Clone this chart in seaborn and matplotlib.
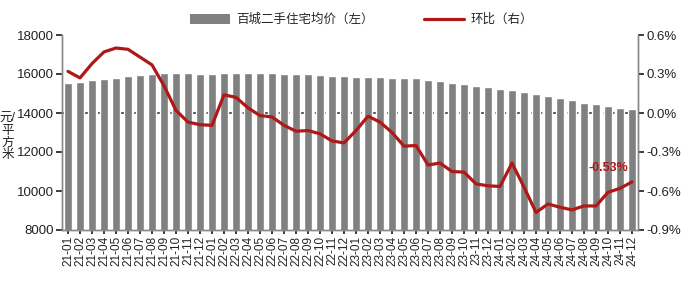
import matplotlib
matplotlib.use("Agg")
import matplotlib.pyplot as plt
import seaborn as sns
import numpy as np
import pandas as pd
from matplotlib.patches import Patch
from matplotlib.lines import Line2D

months = ["21-01","21-02","21-03","21-04","21-05","21-06","21-07","21-08","21-09","21-10","21-11","21-12",
          "22-01","22-02","22-03","22-04","22-05","22-06","22-07","22-08","22-09","22-10","22-11","22-12",
          "23-01","23-02","23-03","23-04","23-05","23-06","23-07","23-08","23-09","23-10","23-11","23-12",
          "24-01","24-02","24-03","24-04","24-05","24-06","24-07","24-08","24-09","24-10","24-11","24-12"]

prices = [15530, 15580, 15670, 15720, 15800, 15890, 15940, 15990, 16040, 16040, 16040, 16010,
          16010, 16040, 16040, 16040, 16040, 16040, 15990, 15990, 15990, 15960, 15910, 15900,
          15870, 15870, 15870, 15820, 15820, 15770, 15670, 15620, 15530, 15480, 15400, 15310,
          15230, 15160, 15070, 14990, 14850, 14750, 14680, 14530, 14440, 14340, 14260, 14200]

mom = [0.32, 0.27, 0.38, 0.47, 0.50, 0.49, 0.43, 0.37, 0.21, 0.02, -0.07, -0.09,
       -0.095, 0.14, 0.12, 0.04, -0.02, -0.03, -0.095, -0.14, -0.135, -0.16, -0.215, -0.23,
       -0.135, -0.025, -0.07, -0.15, -0.255, -0.25, -0.40, -0.385, -0.45, -0.455, -0.545, -0.56,
       -0.565, -0.385, -0.57, -0.765, -0.70, -0.725, -0.745, -0.715, -0.715, -0.61, -0.58, -0.53]

left_ticks = [8000, 10000, 12000, 14000, 16000, 18000]
right_ticks = [-0.9, -0.6, -0.3, 0.0, 0.3, 0.6]
bar_label = "百城二手住宅均价（左）"
line_label = "环比（右）"
last_label = "-0.53%"

sns.set_theme(style="white")
plt.rcParams['font.family'] = ['Liberation Sans', 'Noto Sans CJK SC', 'DejaVu Sans']

df = pd.DataFrame({"month": months, "price": prices, "mom": mom, "idx": np.arange(len(months))})

fig = plt.figure(figsize=(6.95, 2.95), dpi=100)
ax = fig.add_axes([62/695, 1-230/295, (638-62)/695, 195/295])

ax.axhline(14000, color="#444444", lw=1.3, ls=(0, (6, 4)), zorder=0)
sns.barplot(data=df, x="month", y="price", color="#808080", width=0.6, ax=ax,
            saturation=1, zorder=2)
ax.set_ylim(8000, 18000)
ax.set_xlim(-0.5, len(months) - 0.5)
ax.set_yticks(left_ticks)
ax.set_yticklabels([str(v) for v in left_ticks], fontsize=9.5, color="#222222")
ax.set_xlabel("")
ax.set_ylabel("")
ax.tick_params(axis="x", labelrotation=90, labelsize=8.5, length=3, direction="out",
               bottom=True, colors="#222222", pad=1)
ax.tick_params(axis="y", length=4, direction="out", left=True, pad=2)

ax2 = ax.twinx()
sns.lineplot(data=df, x="idx", y="mom", color="#B01818", lw=2.3, ax=ax2, zorder=3)
ax2.set_ylim(-0.9, 0.6)
ax2.set_yticks(right_ticks)
ax2.set_yticklabels([f"{v:.1f}%" for v in right_ticks], fontsize=9.5, color="#222222")
ax2.set_ylabel("")
ax2.set_xlabel("")
ax2.set_xlim(-0.5, len(months) - 0.5)
ax2.tick_params(axis="y", length=4, direction="out", right=True, pad=2)

for a in (ax, ax2):
    a.spines["top"].set_visible(False)
    for s in ("left", "right", "bottom"):
        a.spines[s].set_color("#888888")
        a.spines[s].set_linewidth(1.0)

ax2.text(45, -0.42, last_label, color="#B01818", fontsize=9, fontweight="bold",
         ha="center", va="center")

fig.text(0.011, 0.535, "元/\n平\n方\n米", fontsize=9, ha="center", va="center",
         linespacing=1.0, color="#222222")

handles = [Patch(facecolor="#808080", edgecolor="none"),
           Line2D([0], [0], color="#B01818", lw=2.3)]
fig.legend(handles, [bar_label, line_label], loc="center", bbox_to_anchor=(0.52, 0.932),
           ncol=2, frameon=False, fontsize=9, handlelength=3.2, handleheight=0.8,
           columnspacing=4.0, handletextpad=0.5)

fig.savefig("out.png", dpi=100)
